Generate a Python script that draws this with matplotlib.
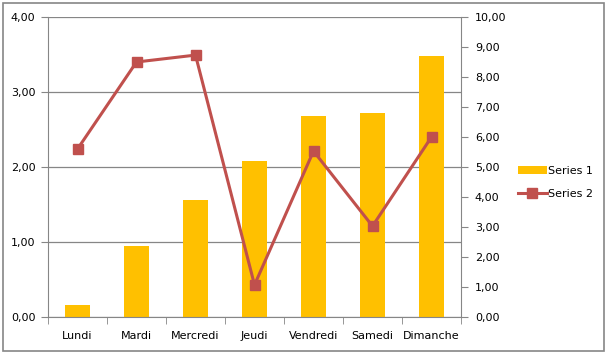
import matplotlib
matplotlib.use('Agg')
import matplotlib.pyplot as plt
from matplotlib.patches import Rectangle
from matplotlib.ticker import FuncFormatter, FixedLocator
import numpy as np

plt.rcParams['font.family'] = ['DejaVu Sans']

days = ["Lundi", "Mardi", "Mercredi", "Jeudi", "Vendredi", "Samedi", "Dimanche"]
series1 = [0.16, 0.95, 1.56, 2.08, 2.68, 2.72, 3.48]
series2 = [5.6, 8.5, 8.73, 1.07, 5.53, 3.03, 6.0]

fmt = FuncFormatter(lambda v, p: f"{v:.2f}".replace(".", ","))
axis_grey = "#868686"
fs = 8

fig = plt.figure(figsize=(6.07, 3.55), dpi=100)
fig.patches.append(Rectangle((3 / 607, 4 / 355), 601 / 607, 348 / 355, transform=fig.transFigure,
                             fill=False, edgecolor=axis_grey, linewidth=1.2))

ax = fig.add_axes([48 / 607, 38 / 355, 413 / 607, 300 / 355])
x = np.arange(len(days))
ax.bar(x, series1, width=0.41, color="#FFC000", label="Series 1", zorder=2)
ax.set_xlim(-0.5, len(days) - 0.5)
ax.set_ylim(0, 4)
ax.set_yticks([0, 1, 2, 3, 4])
ax.yaxis.set_major_formatter(fmt)
ax.grid(axis="y", color=axis_grey, linewidth=0.9, zorder=0)
ax.set_xticks(x)
ax.set_xticklabels(days)
ax.xaxis.set_minor_locator(FixedLocator(np.arange(-0.5, len(days), 1.0)))
ax.tick_params(axis="x", which="major", length=0, pad=10, labelsize=fs)
ax.tick_params(axis="x", which="minor", length=5, color=axis_grey, direction="out")
ax.tick_params(axis="y", length=5, color=axis_grey, labelsize=fs, pad=4)
for side in ["top", "right"]:
    ax.spines[side].set_visible(False)
for side in ["left", "bottom"]:
    ax.spines[side].set_color(axis_grey)

ax2 = ax.twinx()
ax2.plot(x, series2, color="#C0504D", linewidth=2.2, marker="s", markersize=6.5,
         label="Series 2", zorder=3)
ax2.set_ylim(0, 10)
ax2.set_yticks(np.arange(0, 11, 1))
ax2.yaxis.set_major_formatter(fmt)
ax2.tick_params(axis="y", length=5, color=axis_grey, labelsize=fs, pad=5)
for side in ["top", "left", "bottom"]:
    ax2.spines[side].set_visible(False)
ax2.spines["right"].set_color(axis_grey)

h1, l1 = ax.get_legend_handles_labels()
h2, l2 = ax2.get_legend_handles_labels()
fig.legend(h1 + h2, l1 + l2, loc="center left", bbox_to_anchor=(508 / 607, 0.486),
           frameon=False, fontsize=fs, handlelength=2.6, handletextpad=0.1,
           labelspacing=1.2)

fig.savefig("out.png", dpi=100)
